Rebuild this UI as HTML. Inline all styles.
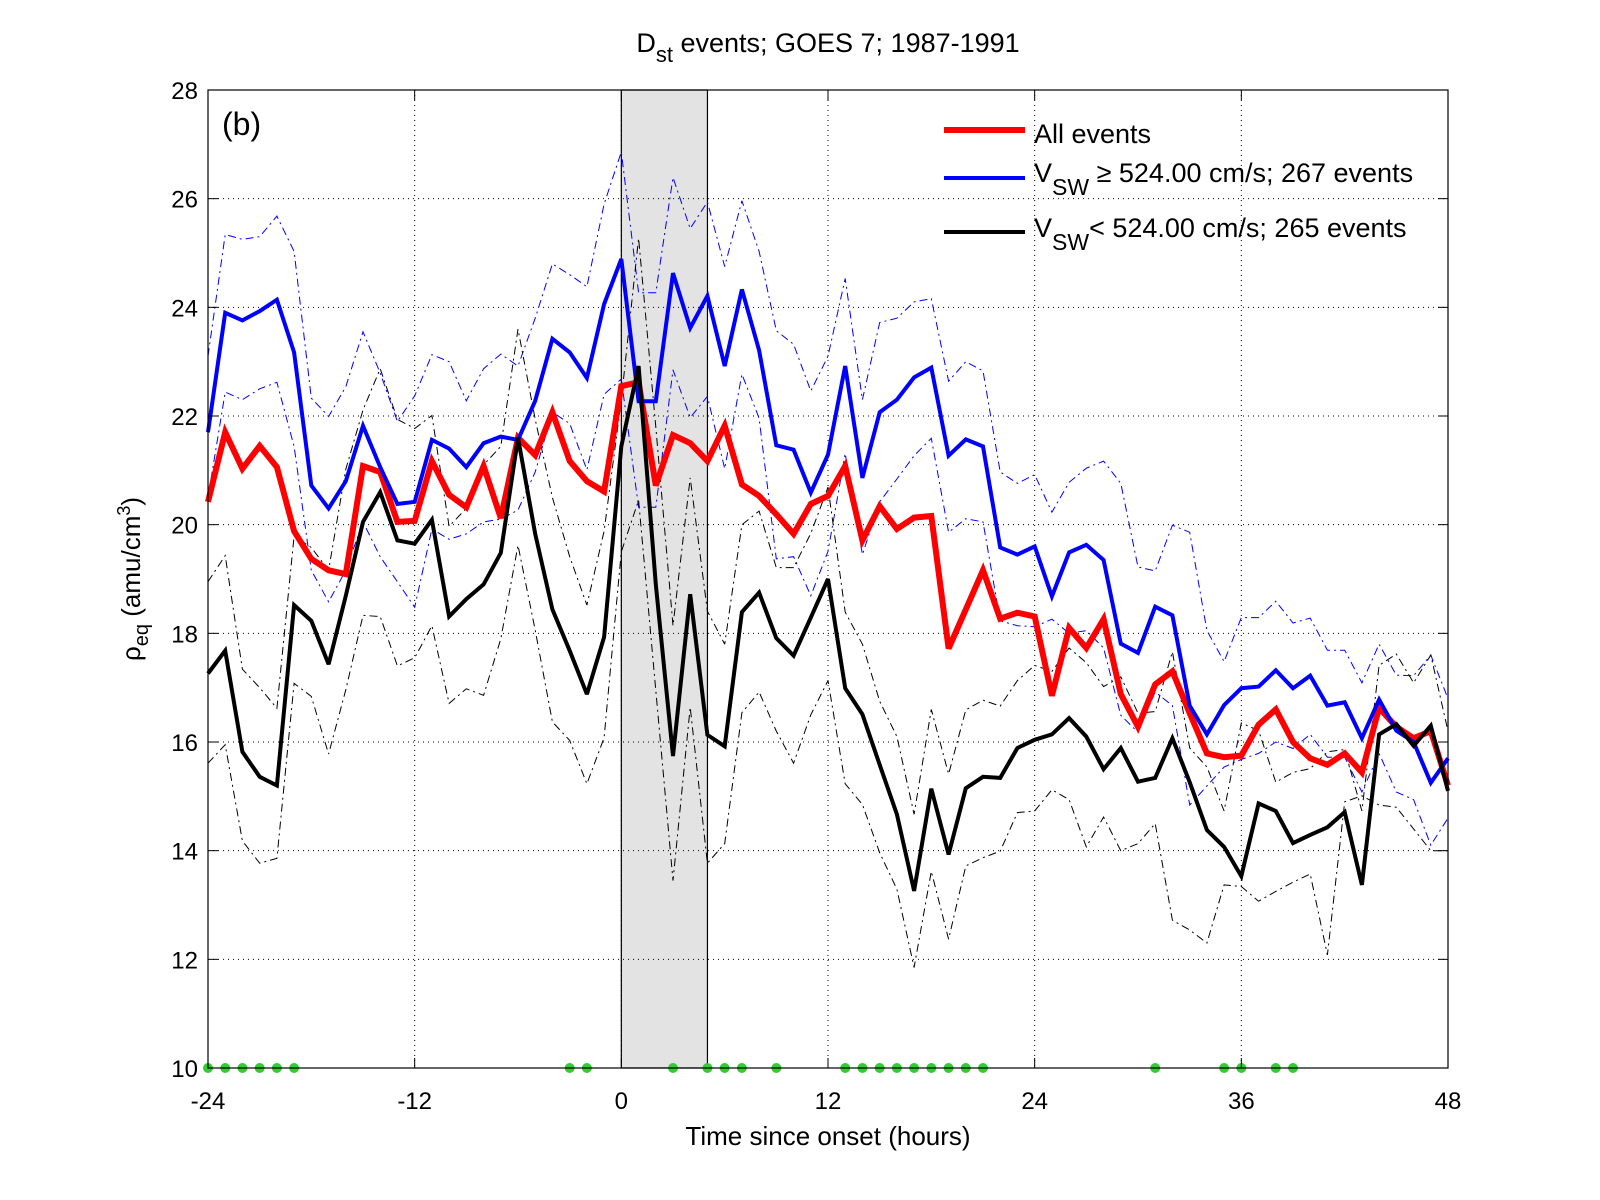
<!DOCTYPE html>
<html><head><meta charset="utf-8"><style>
html,body{margin:0;padding:0;background:#fff;}
svg{display:block;font-family:"Liberation Sans",Arial,sans-serif;}
</style></head><body>
<svg id="chart" width="1600" height="1200" viewBox="0 0 1600 1200" xmlns="http://www.w3.org/2000/svg">
<rect x="0" y="0" width="1600" height="1200" fill="#fff"/>
<g id="band"></g><g id="grid"></g><g id="series"></g><g id="axes"></g>
<text x="828" y="52" font-size="27" text-anchor="middle">D<tspan font-size="22" dy="10">st</tspan><tspan dy="-10"> events; GOES 7; 1987-1991</tspan></text>
<text x="222" y="135" font-size="32">(b)</text>
<text x="828" y="1145" font-size="26" text-anchor="middle">Time since onset (hours)</text>
<text transform="translate(140,579) rotate(-90)" font-size="26" text-anchor="middle">ρ<tspan font-size="20" dy="8">eq</tspan><tspan dy="-8"> (amu/cm</tspan><tspan font-size="18" dy="-10">3</tspan><tspan dy="10">)</tspan></text>
<g>
<line x1="944" y1="130" x2="1025" y2="130" stroke="#f00" stroke-width="6"/>
<text x="1034" y="143" font-size="27">All events</text>
<line x1="944" y1="178" x2="1025" y2="178" stroke="#00f" stroke-width="4"/>
<text x="1034" y="182" font-size="27">V<tspan font-size="23" dy="13">SW</tspan><tspan dy="-13"> ≥ 524.00 cm/s; 267 events</tspan></text>
<line x1="944" y1="232" x2="1025" y2="232" stroke="#000" stroke-width="4"/>
<text x="1034" y="237" font-size="27">V<tspan font-size="23" dy="13">SW</tspan><tspan dy="-13">&lt; 524.00 cm/s; 265 events</tspan></text>
</g>
</svg>
<script>
const hours = Array.from({length:73},(_,i)=>i-24);
const blueMean = [21.7,23.9,23.76,23.93,24.14,23.17,20.72,20.3,20.8,21.82,21.06,20.38,20.42,21.56,21.4,21.06,21.5,21.62,21.56,22.28,23.42,23.17,22.7,24.06,
24.89,22.27,22.27,24.63,23.62,24.21,22.92,24.33,23.21,21.46,21.38,20.59,21.29,22.92,20.86,22.07,22.3,22.71,22.89,21.27,21.57,21.44,19.58,19.45,
19.6,18.68,19.49,19.63,19.35,17.81,17.64,18.49,18.33,16.67,16.14,16.68,16.99,17.02,17.32,16.99,17.22,16.67,16.73,16.07,16.78,16.21,16.0,15.25,15.7];
const redMean = [20.42,21.7,21.03,21.45,21.06,19.88,19.37,19.16,19.09,21.08,20.97,20.05,20.07,21.17,20.55,20.32,21.08,20.12,21.6,21.28,22.07,21.17,20.8,20.61,
22.55,22.62,20.72,21.65,21.5,21.17,21.82,20.74,20.53,20.19,19.83,20.38,20.53,21.08,19.71,20.34,19.92,20.13,20.16,17.72,18.44,19.16,18.27,18.38,
18.31,16.85,18.1,17.73,18.26,16.88,16.28,17.06,17.3,16.53,15.79,15.72,15.75,16.32,16.6,16.0,15.7,15.58,15.79,15.44,16.63,16.28,16.07,16.2,15.2];
const blackMean = [17.26,17.68,15.82,15.36,15.2,18.52,18.23,17.43,18.69,20.05,20.6,19.71,19.65,20.09,18.31,18.63,18.9,19.48,21.6,19.83,18.44,17.68,16.88,17.93,
21.44,22.92,18.9,15.74,18.72,16.13,15.92,18.39,18.75,17.91,17.59,18.29,19.0,16.99,16.51,15.58,14.67,13.26,15.14,13.93,15.15,15.36,15.34,15.89,
16.04,16.14,16.44,16.1,15.5,15.89,15.27,15.34,16.07,15.26,14.38,14.07,13.53,14.87,14.73,14.14,14.29,14.43,14.71,13.37,16.14,16.33,15.93,16.3,15.1];
const blueUpper = [23.1,25.34,25.25,25.3,25.68,25.03,22.33,21.99,22.54,23.55,22.79,21.9,22.37,23.13,23.0,22.28,22.87,23.14,22.92,23.8,24.8,24.6,24.38,25.9,
26.86,24.27,24.27,26.39,25.45,25.94,24.75,25.96,25.03,23.57,23.32,22.46,23.1,24.53,22.3,23.72,23.8,24.1,24.16,22.64,23.0,22.83,20.97,20.76,
20.92,20.23,20.78,21.04,21.17,20.76,19.22,19.15,19.99,19.86,18.05,17.48,18.29,18.29,18.59,18.19,18.28,17.69,17.69,17.09,17.8,17.23,17.22,17.6,16.8];
const blueLower = [20.5,22.44,22.3,22.5,22.62,21.44,19.16,18.58,19.16,20.05,19.41,18.95,18.48,19.92,19.73,19.83,20.05,20.1,20.27,20.97,22.07,21.86,21.01,22.4,
22.68,20.32,20.32,22.85,21.97,22.36,21.03,22.77,21.96,19.37,19.41,18.69,19.51,21.31,19.45,20.42,20.84,21.27,21.59,19.86,20.11,20.05,18.23,18.14,
18.12,18.26,18.0,18.05,17.73,16.49,16.18,16.92,16.67,14.84,15.19,15.54,15.68,15.79,16.0,15.88,16.14,15.72,15.72,15.08,15.79,15.08,14.94,14.1,14.6];
const blackUpper = [18.95,19.43,17.34,17.0,16.62,19.79,19.58,19.16,21.02,22.11,22.87,21.94,21.77,22.01,19.97,20.3,21.1,21.44,23.6,21.94,20.5,19.41,18.52,19.88,
22.3,25.27,21.8,18.14,20.86,18.41,17.8,20.0,20.25,19.21,19.21,19.84,20.69,18.39,17.8,16.75,16.1,14.67,16.6,15.41,16.59,16.77,16.66,17.13,
17.41,17.3,17.73,17.46,17.02,17.2,16.53,16.56,17.66,15.89,15.54,14.73,16.35,16.21,15.26,15.44,15.51,15.82,15.86,14.73,17.41,17.62,17.09,17.6,16.2];
const blackLower = [15.61,15.95,14.18,13.77,13.86,17.08,16.84,15.78,16.96,18.33,18.31,17.4,17.55,18.14,16.71,16.98,16.86,17.9,19.62,18.06,16.37,16.03,15.23,16.08,
19.5,20.45,16.95,13.45,16.64,13.77,14.13,16.54,16.92,16.2,15.61,16.5,17.13,15.23,14.85,13.96,13.29,11.85,13.62,12.37,13.72,13.87,13.99,14.7,
14.73,15.12,14.94,14.07,14.62,14.0,14.13,14.5,12.72,12.54,12.3,13.37,13.34,13.07,13.25,13.42,13.57,12.08,14.9,15.01,14.84,14.8,14.4,14.0,14.0];
const markerHours = [-24,-23,-22,-21,-20,-19,-3,-2,3,5,6,7,9,13,14,15,16,17,18,19,20,21,31,35,36,38,39];
const xTicks = [-24,-12,0,12,24,36,48];
const yTicks = [10,12,14,16,18,20,22,24,26,28];
const bandRange = [0,5];

const L=208,R=1448,T=90,B=1068,X0=-24,X1=48,Y0=10,Y1=28;
const xs=h=>L+(h-X0)/(X1-X0)*(R-L);
const ys=v=>B-(v-Y0)/(Y1-Y0)*(B-T);
const NS='http://www.w3.org/2000/svg';
function mk(tag,parent,attrs){const e=document.createElementNS(NS,tag);for(const k in attrs)e.setAttribute(k,attrs[k]);parent.appendChild(e);return e;}
const band=document.getElementById('band'),grid=document.getElementById('grid'),ser=document.getElementById('series'),axes=document.getElementById('axes');

let r=mk('rect',band,{x:xs(bandRange[0]),y:T,width:xs(bandRange[1])-xs(bandRange[0]),height:B-T,fill:'#e3e3e3',stroke:'#000','stroke-width':1.2});



xTicks.forEach(t=>{
  if(t!==X0&&t!==X1){let g=mk('line',grid,{x1:xs(t),x2:xs(t),y1:T,y2:B,stroke:'#000','stroke-width':1,'stroke-dasharray':'1 4'});
  
  }
  let tk=mk('line',axes,{x1:xs(t),x2:xs(t),y1:B,y2:B-10,stroke:'#000','stroke-width':1});
  
  
  let tk2=mk('line',axes,{x1:xs(t),x2:xs(t),y1:T,y2:T+10,stroke:'#000','stroke-width':1});
  
  
  let tx=mk('text',axes,{x:xs(t),y:B+41,'font-size':24,'text-anchor':'middle'});tx.textContent=t;
  
  
});
yTicks.forEach(t=>{
  if(t!==Y0&&t!==Y1){let g=mk('line',grid,{x1:L,x2:R,y1:ys(t),y2:ys(t),stroke:'#000','stroke-width':1,'stroke-dasharray':'1 4'});
  
  }
  let tk=mk('line',axes,{x1:L,x2:L+10,y1:ys(t),y2:ys(t),stroke:'#000','stroke-width':1});
  
  
  let tk2=mk('line',axes,{x1:R,x2:R-10,y1:ys(t),y2:ys(t),stroke:'#000','stroke-width':1});
  
  
  let tx=mk('text',axes,{x:L-10,y:ys(t)+9,'font-size':24,'text-anchor':'end'});tx.textContent=t;
  
  
});
let box=mk('rect',axes,{x:L,y:T,width:R-L,height:B-T,fill:'none',stroke:'#000','stroke-width':1.2});



function pts(arr){return arr.map((v,i)=>xs(hours[i]).toFixed(1)+','+ys(v).toFixed(1)).join(' ');}
function line(arr,color,w,dash,name){
  const p=mk('polyline',ser,{points:pts(arr),fill:'none',stroke:color,'stroke-width':w,'stroke-linejoin':'miter','stroke-miterlimit':3});
  if(dash)p.setAttribute('stroke-dasharray',dash);
  
  
}
line(blueUpper,'#00f',1,'8 4 2 4','blue-upper-bound');
line(blueLower,'#00f',1,'8 4 2 4','blue-lower-bound');
line(blackUpper,'#000',1,'8 4 2 4','black-upper-bound');
line(blackLower,'#000',1,'8 4 2 4','black-lower-bound');
line(redMean,'#f00',6,null,'all-events-line');
line(blueMean,'#00f',4,null,'fast-wind-line');
line(blackMean,'#000',4,null,'slow-wind-line');

markerHours.forEach(h=>{
  const c=mk('circle',ser,{cx:xs(h),cy:ys(Y0),r:5,fill:'#33cc33'});
  
  
});
</script>
</body></html>
